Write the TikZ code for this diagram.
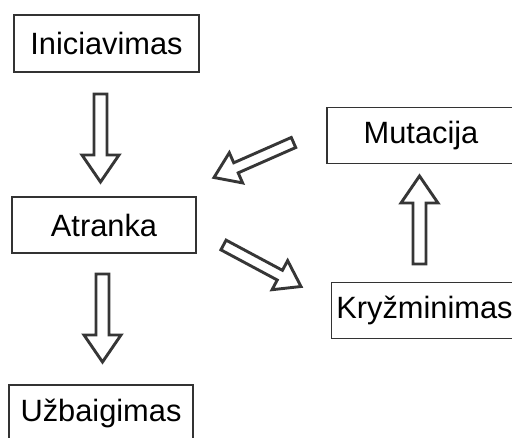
\documentclass[tikz,border=0pt]{standalone}
\usepackage{fontspec}
\setmainfont{Liberation Sans}
\usetikzlibrary{calc}

\definecolor{boxline}{HTML}{333333}
\definecolor{arrline}{HTML}{363636}

\tikzset{
  stagebox/.style={draw=boxline, line width=1.1pt, fill=white,
    minimum width=184pt, minimum height=56pt, inner sep=0pt,
    font=\fontsize{30.8}{36}\selectfont},
  hollowarrow/.style={draw=arrline, line width=2.9pt, fill=white,
    line join=miter},
}

% hollow block arrow from #2 to #3; #4 shaft half-width, #5 head half-width, #6 head length
\newcommand\blockarrow[6][]{%
  \draw[hollowarrow,#1]
    ($(#2)!#4!90:(#3)$)
    -- ($($(#3)!#6!(#2)$)!#4!-90:(#2)$)
    -- ($($(#3)!#6!(#2)$)!#5!-90:(#2)$)
    -- (#3)
    -- ($($(#3)!#6!(#2)$)!#5!90:(#2)$)
    -- ($($(#3)!#6!(#2)$)!#4!90:(#2)$)
    -- ($(#2)!#4!-90:(#3)$)
    -- cycle;
}

\begin{document}
\begin{tikzpicture}[x=1pt, y=1pt]
  \useasboundingbox (0,0) rectangle (512,437);
  \clip (0,0) rectangle (512,437);

  % stages
  \node[stagebox, minimum width=185pt, minimum height=57pt] (init) at (106.5,393.5) {Iniciavimas};
  \node[stagebox] (sel)  at (104,212) {Atranka};
  \node[stagebox] (fin)  at (101,24) {Užbaigimas};
  \node[stagebox, minimum width=188pt] (mut)  at (421,301.5) {Mutacija};
  \node[stagebox, minimum width=186pt] (cross) at (424.5,126.5) {Kryžminimas};

  % arrow end points
  \coordinate (a1s) at (100.5,343);
  \coordinate (a1e) at (100.5,255);
  \coordinate (a2s) at (102.5,163);
  \coordinate (a2e) at (102.5,75);
  \coordinate (a3s) at (419.5,173);
  \coordinate (a3e) at (419.5,261);
  \coordinate (a4s) at (293.5,294.5);
  \coordinate (a4e) at (214,259.5);
  \coordinate (a5s) at (223.5,192);
  \coordinate (a5e) at (301,150.5);

  % flow arrows
  \blockarrow{a1s}{a1e}{6.5pt}{18.5pt}{27pt}
  \blockarrow{a2s}{a2e}{6.5pt}{18.5pt}{27pt}
  \blockarrow{a3s}{a3e}{6.5pt}{18.5pt}{27pt}
  \blockarrow{a4s}{a4e}{5.5pt}{16.5pt}{24pt}
  \blockarrow{a5s}{a5e}{5.5pt}{16.5pt}{24pt}
\end{tikzpicture}
\end{document}
